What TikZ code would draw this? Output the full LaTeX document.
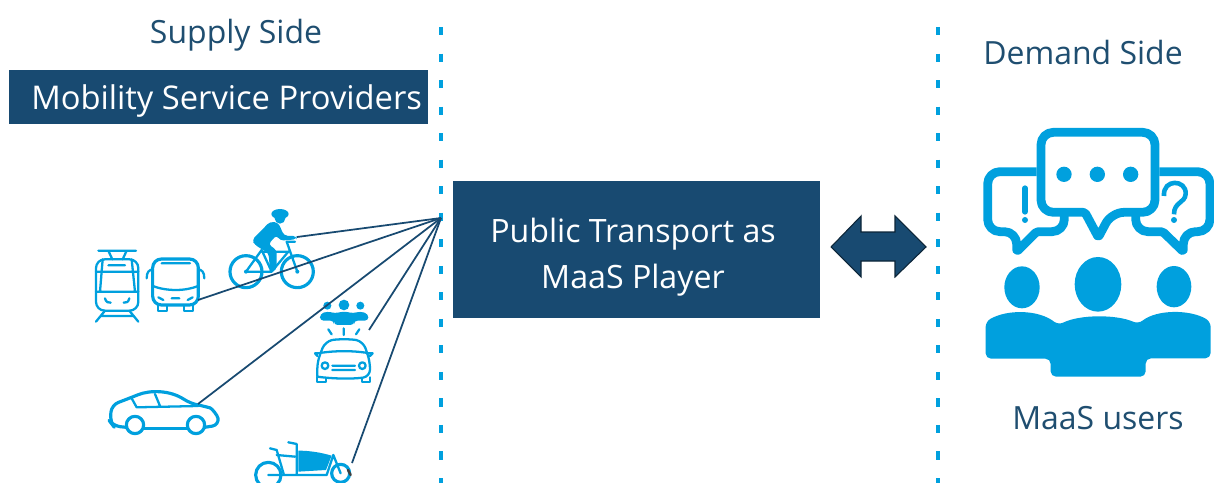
\documentclass[tikz,border=0pt]{standalone}
\usepackage{fontspec}
\setmainfont{Open Sans}
\definecolor{maasblue}{RGB}{0,160,222}
\definecolor{maasdark}{RGB}{24,74,113}
\definecolor{maastext}{RGB}{31,78,112}

\begin{document}
\begin{tikzpicture}[x=0.02cm,y=-0.02cm]
\tikzset{banner/.style = {shape=rectangle,fill=maasdark,inner sep=0pt}}
\tikzset{caption/.style = {text=white,inner sep=0pt,font=\fontsize{18.3}{22}\selectfont}}
\tikzset{heading/.style = {text=maastext,inner sep=0pt,font=\fontsize{18.2}{22}\selectfont}}
\tikzset{border/.style = {maasblue,line width=2.4pt,dash pattern=on 4.6pt off 10.5pt}}
\tikzset{edge/.style = {maasdark,line width=1pt}}
\tikzset{icon/.style = {draw=maasblue,line width=1.8pt,line join=round,line cap=round}}
\tikzset{thin icon/.style = {draw=maasblue,line width=1.3pt,line join=round,line cap=round}}
\tikzset{solid icon/.style = {fill=maasblue}}
\tikzset{bubble/.style = {draw=maasblue,fill=white,line width=5pt,rounded corners=7pt,line join=round}}
\clip (0,0) rectangle (1214,483);
% headings
\node[heading] (supply) at (236,35) {Supply Side};
\node[heading] (demand) at (1083,53) {Demand Side};
\node[heading] (users) at (1098,418) {MaaS users};
% boxes
\node[banner,minimum width=419*0.02cm,minimum height=54*0.02cm] (providers) at (218.5,97) {};
\node[caption,anchor=west,font=\fontsize{18.6}{22}\selectfont] (providers text) at (31,101) {Mobility Service Providers};
\node[banner,minimum width=367*0.02cm,minimum height=137*0.02cm] (player) at (636.5,249.5) {};
\node[caption] (player1) at (633,234) {Public Transport as};
\node[caption] (player2) at (633,280) {MaaS Player};
% dotted borders
\draw[border] (441,27) -- (441,483);
\draw[border] (938,27) -- (938,483);
% double arrow
\fill[maasdark,draw=black!50!maasdark,line width=0.6pt] (831,247) -- (861,216) -- (861,232) -- (895,232) -- (895,216) -- (926,247)
  -- (895,277) -- (895,261) -- (861,261) -- (861,277) -- cycle;
% connector ends
\coordinate (hub) at (441,218);
\coordinate (rider) at (297,237);
\coordinate (bus) at (198,300);
\coordinate (sedan) at (198,404);
\coordinate (shared) at (369,330);
\coordinate (cargo) at (352,463);
% left icons
\begin{scope}[shift={(80,190)},x=0.02cm/3,y=-0.02cm/3]
  % tram
  \draw[thin icon,rounded corners=5pt] (48,208) rectangle (175,362);
  \draw[thin icon] (55,182) -- (168,182) (85,182) -- (97,208) (140,182) -- (128,208);
  \draw[thin icon] (85,226) -- (135,226) (48,245) -- (175,245) (68,208) -- (60,305) (155,208) -- (165,305) (48,305) -- (175,305);
  \draw[thin icon] (75,325) .. controls (78,338) and (85,338) .. (92,338) (148,325) .. controls (145,338) and (138,338) .. (131,338);
  \draw[thin icon] (75,362) -- (48,395) (148,362) -- (175,395) (64,378) -- (159,378);
  % bus
  \draw[icon,rounded corners=5pt] (218,207) rectangle (355,345);
  \draw[thin icon] (245,220) -- (330,220) (200,265) .. controls (200,245) and (208,240) .. (218,238) (373,265) .. controls (373,245) and (365,240) .. (355,238);
  \draw[thin icon] (218,288) .. controls (260,304) and (315,304) .. (355,288);
  \draw[thin icon] (275,325) -- (298,325) (235,322) -- (250,330) (338,322) -- (323,330);
  \draw[thin icon] (235,345) -- (235,362) -- (262,362) -- (262,345) (312,345) -- (312,362) -- (340,362) -- (340,345);
  % bike with rider
  \draw[icon] (498,245) circle[radius=48];
  \draw[icon] (652,245) circle[radius=48];
  \draw[thin icon] (498,245) -- (545,180) -- (575,245) -- (498,245) (545,185) -- (625,185) -- (575,245) (652,245) -- (620,155) -- (645,155);
  \fill[solid icon] (498,245) circle[radius=6] (652,245) circle[radius=6];
  \fill[solid icon] (600,72) ellipse[x radius=26,y radius=15];
  \fill[solid icon] (600,85) ellipse[x radius=16,y radius=16];
  \fill[solid icon,rounded corners=2pt] (570,95) -- (595,98) -- (612,137) -- (650,138) -- (650,148) -- (600,152) -- (590,135) -- (565,163)
    -- (590,180) -- (590,240) -- (570,247) -- (566,190) -- (525,165) -- (516,150) -- cycle;
  % shared car
  \fill[solid icon] (742,347) circle[radius=12] (792,345) circle[radius=16] (841,347) circle[radius=12];
  \fill[solid icon,rounded corners=2pt] (720,392) -- (720,372) -- (742,364) -- (765,370) -- (792,364) -- (820,370) -- (841,364) -- (865,372) -- (865,392) -- (822,392) -- (822,405) -- (762,405) -- (762,392) -- cycle;
  \draw[thin icon] (745,418) -- (755,433) (791,415) -- (791,435) (838,418) -- (828,433);
  \draw[thin icon,rounded corners=4pt] (712,560) -- (712,515) -- (735,455) .. controls (770,447) and (815,447) .. (850,455) -- (870,515) -- (870,560) .. controls (820,567) and (760,567) .. (712,560);
  \draw[thin icon] (726,488) .. controls (770,482) and (815,482) .. (857,488);
  \draw[thin icon] (722,490) -- (705,490) -- (712,498) (860,490) -- (878,490) -- (870,498);
  \draw[thin icon] (735,527) circle[radius=10] (847,527) circle[radius=10] (757,527) -- (825,527) (757,540) -- (825,540);
  \draw[thin icon] (712,562) -- (712,577) -- (738,577) -- (738,564) (845,564) -- (845,577) -- (870,577) -- (870,562);
  % sedan
  \draw[icon,rounded corners=4pt] (139,712) -- (100,708) -- (90,695) -- (95,645) -- (155,622) .. controls (210,600) and (270,600) .. (330,640) -- (370,648) .. controls (395,655) and (412,675) .. (418,705) -- (374,712);
  \draw[icon] (191,715) -- (322,715);
  \draw[icon] (165,705) circle[radius=26] (348,705) circle[radius=26];
  \draw[thin icon] (155,625) -- (170,652) -- (355,648) (225,612) -- (240,648);
  % cargo bike
  \draw[icon] (565,855) circle[radius=38] (782,850) circle[radius=27];
  \fill[solid icon] (655,782) .. controls (690,782) and (725,788) .. (755,797) -- (738,840) -- (655,845) -- cycle;
  \draw[thin icon] (625,757) -- (650,762) -- (650,852) (570,775) -- (590,780) -- (612,855) -- (565,855) (590,795) -- (645,800) (612,855) -- (740,855) -- (760,795) -- (782,850);
  \draw[line width=1.4pt,line cap=round,black!75] (804,840) -- (812,855);
\end{scope}
% right icon
\begin{scope}[shift={(970,120)},x=0.02cm/3,y=-0.02cm/3]
  \draw[bubble] (200,155) -- (53,155) -- (53,335) -- (140,335) [rounded corners=1pt] -- (140,395) -- (200,335) [rounded corners=7pt] -- (283,335) -- (283,270);
  \draw[bubble] (568,155) -- (720,155) -- (720,335) -- (640,335) [rounded corners=1pt] -- (640,395) -- (578,335) [rounded corners=7pt] -- (497,335) -- (497,270);
  \draw[bubble] (213,37) -- (555,37) -- (555,277) -- (425,277) [rounded corners=1pt] -- (385,352) -- (345,277) [rounded corners=7pt] -- (213,277) -- cycle;
  \fill[solid icon] (282,163) circle[radius=23] (382,163) circle[radius=23] (482,163) circle[radius=23];
  \draw[maasblue,line width=3.4pt,line cap=round] (165,205) -- (165,275);
  \fill[solid icon] (165,300) circle[radius=9] (612,300) circle[radius=9];
  \draw[maasblue,line width=2.6pt] (582,228) .. controls (578,175) and (650,178) .. (647,222) .. controls (645,250) and (612,245) .. (612,283);
  \fill[solid icon] (156,502) ellipse[x radius=53,y radius=63] (384,493) ellipse[x radius=70,y radius=82] (612,500) ellipse[x radius=52,y radius=62];
  \fill[solid icon,rounded corners=3pt] (47,716) -- (47,605) .. controls (110,568) and (205,568) .. (265,615) .. controls (330,583) and (440,583) .. (505,612) .. controls (560,568) and (660,568) .. (722,605) -- (722,715) -- (527,715) -- (527,770) -- (242,770) -- (242,716) -- cycle;
\end{scope}
%edges
\draw[edge] (hub) to (rider);
\draw[edge] (hub) to (bus);
\draw[edge] (hub) to (sedan);
\draw[edge] (hub) to (shared);
\draw[edge] (hub) to (cargo);
\end{tikzpicture}
\end{document}
